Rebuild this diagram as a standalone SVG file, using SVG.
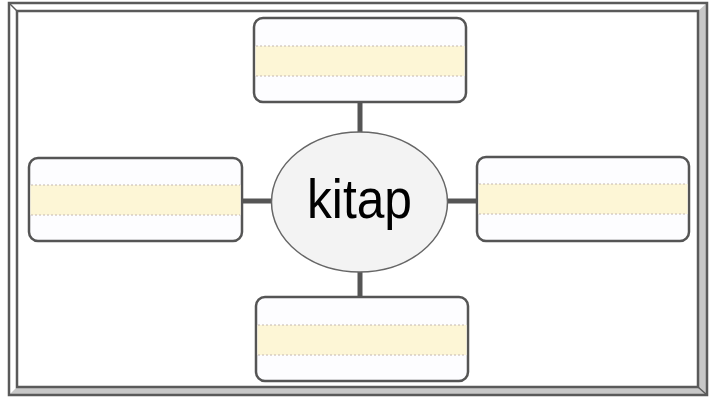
<svg xmlns="http://www.w3.org/2000/svg" width="718" height="397" viewBox="0 0 718 397">
<style>
.box{fill:#fdfdff;stroke:#555;stroke-width:2.5}
.band{fill:#fdf6d6}
.dot{stroke:#c4b8b0;stroke-width:1;stroke-dasharray:2 2}
.conn{stroke:#555;stroke-width:5}
</style>
<rect x="0" y="0" width="718" height="397" fill="#fff"/>
<g id="frame">
<polygon points="9,3 707,3 698,11 17,11" fill="#fff"/>
<polygon points="9,3 17,11 17,387 9,395" fill="#fff"/>
<polygon points="707,3 707,395 698,387 698,11" fill="#c8c8c8"/>
<polygon points="9,395 707,395 698,387 17,387" fill="#c8c8c8"/>
<rect x="9" y="3" width="698" height="392" fill="none" stroke="#5a5a5a" stroke-width="2.5"/>
<rect x="17" y="11" width="681" height="376" fill="none" stroke="#5a5a5a" stroke-width="2.5"/>
<line x1="9" y1="3" x2="17" y2="11" stroke="#5a5a5a" stroke-width="1.5"/>
<line x1="707" y1="395" x2="698" y2="387" stroke="#5a5a5a" stroke-width="1.5"/>
</g>
<g id="connectors">
<line class="conn" x1="360" y1="101" x2="360" y2="133"/>
<line class="conn" x1="360" y1="271" x2="360" y2="298"/>
<line class="conn" x1="241" y1="201" x2="272" y2="201"/>
<line class="conn" x1="447" y1="201" x2="478" y2="201"/>
</g>
<g id="top">
<rect class="box" x="254" y="18" width="212" height="84" rx="9"/>
<rect class="band" x="255.5" y="46" width="209" height="30"/>
<line class="dot" x1="256" y1="46" x2="464" y2="46"/>
<line class="dot" x1="256" y1="76" x2="464" y2="76"/>
</g>
<g id="left">
<rect class="box" x="29" y="158" width="213" height="83" rx="9"/>
<rect class="band" x="30.5" y="185" width="210" height="30"/>
<line class="dot" x1="31" y1="185" x2="240" y2="185"/>
<line class="dot" x1="31" y1="215" x2="240" y2="215"/>
</g>
<g id="right">
<rect class="box" x="477" y="157" width="212" height="84" rx="9"/>
<rect class="band" x="478.5" y="184" width="209" height="30"/>
<line class="dot" x1="479" y1="184" x2="687" y2="184"/>
<line class="dot" x1="479" y1="214" x2="687" y2="214"/>
</g>
<g id="bottom">
<rect class="box" x="256" y="297" width="212" height="84" rx="9"/>
<rect class="band" x="257.5" y="325" width="209" height="30"/>
<line class="dot" x1="258" y1="325" x2="466" y2="325"/>
<line class="dot" x1="258" y1="355" x2="466" y2="355"/>
</g>
<g id="center">
<ellipse cx="359.5" cy="202" rx="88" ry="70" fill="#f3f3f3" stroke="#666" stroke-width="1.5"/>
<text x="359.5" y="218" text-anchor="middle" font-family="Liberation Sans, sans-serif" font-size="56" textLength="105" lengthAdjust="spacingAndGlyphs" fill="#000">kitap</text>
</g>
</svg>
